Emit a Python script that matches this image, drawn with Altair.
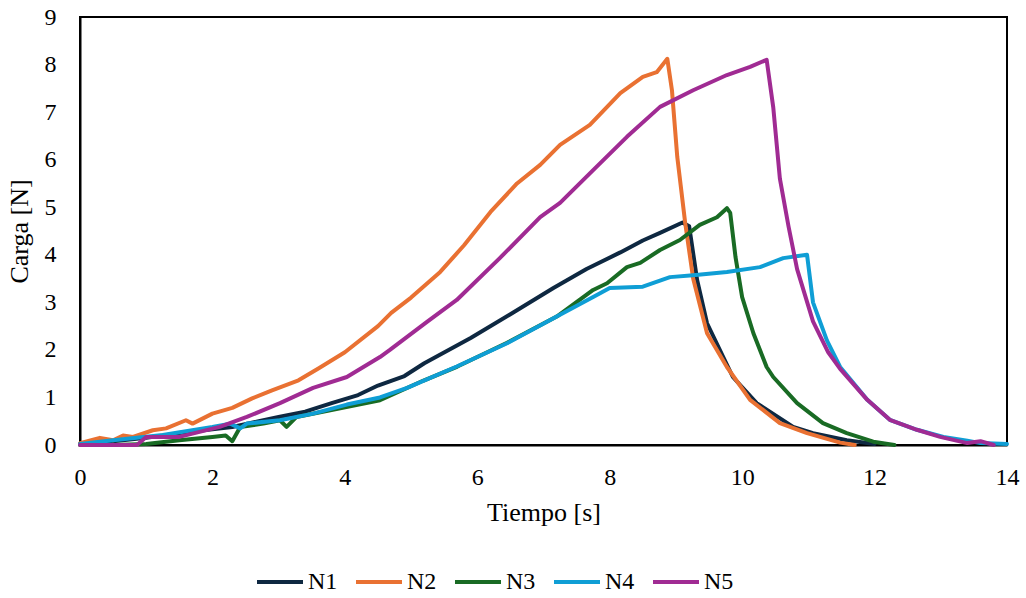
import altair as alt
import pandas as pd

names = ["N1", "N2", "N3", "N4", "N5"]
colors = ["#0E2841", "#E97132", "#196B24", "#0F9ED5", "#A02B93"]

t_N1 = [0, 0.5, 1.0, 1.5, 2.0, 2.3, 2.7, 3.0, 3.4, 3.8, 4.2, 4.5, 4.9, 5.2, 5.9, 6.5, 7.15, 7.65, 8.16, 8.5, 8.76, 9.1, 9.2, 9.32, 9.47, 9.86, 10.22, 10.77, 11.07, 11.58, 12.0]
v_N1 = [0.02, 0.08, 0.15, 0.25, 0.33, 0.38, 0.5, 0.59, 0.7, 0.88, 1.05, 1.25, 1.45, 1.72, 2.25, 2.75, 3.3, 3.7, 4.05, 4.3, 4.46, 4.68, 4.6, 3.47, 2.56, 1.43, 0.88, 0.38, 0.25, 0.1, 0.02]

t_N2 = [0, 0.3, 0.5, 0.65, 0.8, 1.1, 1.3, 1.6, 1.7, 2.0, 2.3, 2.6, 2.9, 3.3, 3.6, 4.0, 4.5, 4.7, 5.0, 5.44, 5.8, 6.2, 6.6, 6.95, 7.25, 7.7, 8.16, 8.5, 8.71, 8.87, 8.94, 9.02, 9.14, 9.26, 9.47, 9.77, 10.12, 10.57, 10.98, 11.48, 11.7]
v_N2 = [0.04, 0.15, 0.1, 0.2, 0.17, 0.31, 0.35, 0.52, 0.45, 0.66, 0.78, 0.98, 1.15, 1.36, 1.61, 1.95, 2.5, 2.78, 3.1, 3.64, 4.2, 4.9, 5.5, 5.89, 6.31, 6.73, 7.4, 7.74, 7.84, 8.12, 7.46, 6.06, 4.67, 3.5, 2.35, 1.64, 0.95, 0.46, 0.25, 0.05, 0.0]

t_N3 = [0, 0.5, 1.0, 1.5, 2.0, 2.2, 2.3, 2.42, 2.77, 3.02, 3.12, 3.27, 3.78, 4.53, 5.18, 5.7, 6.45, 7.2, 7.75, 7.96, 8.26, 8.46, 8.76, 9.06, 9.36, 9.62, 9.77, 9.82, 9.9, 10.0, 10.17, 10.37, 10.47, 10.83, 11.22, 11.58, 11.98, 12.3]
v_N3 = [0, 0, 0.02, 0.1, 0.17, 0.2, 0.08, 0.38, 0.45, 0.52, 0.38, 0.59, 0.73, 0.94, 1.35, 1.65, 2.15, 2.7, 3.26, 3.4, 3.74, 3.83, 4.1, 4.31, 4.63, 4.79, 4.98, 4.88, 3.95, 3.11, 2.35, 1.64, 1.43, 0.88, 0.46, 0.25, 0.07, 0.0]

t_N4 = [0, 0.5, 1.25, 2.0, 2.27, 2.42, 2.52, 3.02, 3.52, 4.03, 4.53, 4.94, 5.69, 6.45, 7.2, 7.75, 8.0, 8.5, 8.91, 9.26, 9.77, 10.27, 10.62, 10.98, 11.07, 11.28, 11.48, 11.89, 12.23, 12.64, 13.04, 13.4, 13.6, 14.0]
v_N4 = [0.02, 0.1, 0.21, 0.38, 0.45, 0.35, 0.45, 0.52, 0.66, 0.85, 1.0, 1.2, 1.65, 2.14, 2.7, 3.11, 3.3, 3.33, 3.53, 3.57, 3.64, 3.74, 3.93, 4.0, 3.0, 2.2, 1.64, 0.95, 0.53, 0.32, 0.17, 0.09, 0.04, 0.02]

t_N5 = [0, 0.86, 1.0, 1.5, 2.11, 2.52, 3.02, 3.52, 4.03, 4.53, 4.68, 5.24, 5.69, 6.34, 6.95, 7.25, 7.75, 8.26, 8.76, 9.26, 9.77, 10.12, 10.37, 10.47, 10.57, 10.7, 10.83, 11.07, 11.3, 11.48, 11.89, 12.23, 12.64, 12.99, 13.4, 13.6, 13.8]
v_N5 = [0, 0, 0.17, 0.17, 0.38, 0.59, 0.88, 1.2, 1.43, 1.85, 2.0, 2.59, 3.05, 3.93, 4.79, 5.09, 5.78, 6.48, 7.11, 7.46, 7.78, 7.95, 8.1, 7.1, 5.6, 4.6, 3.7, 2.6, 1.95, 1.6, 0.95, 0.53, 0.32, 0.17, 0.04, 0.08, 0.0]

series = {"N1": (t_N1, v_N1), "N2": (t_N2, v_N2), "N3": (t_N3, v_N3),
          "N4": (t_N4, v_N4), "N5": (t_N5, v_N5)}

rows = []
for name, (ts, vs) in series.items():
    for i, (t, v) in enumerate(zip(ts, vs)):
        rows.append({"serie": name, "t": t, "v": v, "i": i})
df = pd.DataFrame(rows)

FONT = "Times New Roman, Liberation Serif, serif"

chart = alt.Chart(df).mark_line(strokeWidth=4, strokeJoin="round", strokeCap="round").encode(
    x=alt.X("t:Q", scale=alt.Scale(domain=[0, 14], nice=False),
            axis=alt.Axis(title="Tiempo [s]", values=list(range(0, 15, 2)), grid=False,
                          ticks=False, labelFlush=False, labelPadding=20, titlePadding=10)),
    y=alt.Y("v:Q", scale=alt.Scale(domain=[0, 9], nice=False),
            axis=alt.Axis(title="Carga [N]", values=list(range(0, 10)), grid=False,
                          ticks=False, labelFlush=False, labelPadding=24, titlePadding=12)),
    color=alt.Color("serie:N", scale=alt.Scale(domain=names, range=colors),
                    legend=alt.Legend(title=None, orient="none", direction="horizontal",
                                      legendX=175, legendY=540, symbolType="stroke",
                                      symbolSize=2116, symbolStrokeWidth=4,
                                      labelOffset=3, columnPadding=10)),
    order="i:Q",
).properties(
    width=927, height=428,
    padding={"left": 80, "top": 17, "right": 19, "bottom": 153},
    autosize=alt.AutoSizeParams(type="none"),
).configure_view(
    stroke="black", strokeWidth=2
).configure_axis(
    domainColor="black", domainWidth=2,
    labelFont=FONT, labelFontSize=24, labelColor="black",
    titleFont=FONT, titleFontSize=26, titleColor="black", titleFontWeight="normal",
).configure_legend(
    labelFont=FONT, labelFontSize=24, labelColor="black",
)

chart.save("out.html", embed_options={"renderer": "svg", "actions": False})
